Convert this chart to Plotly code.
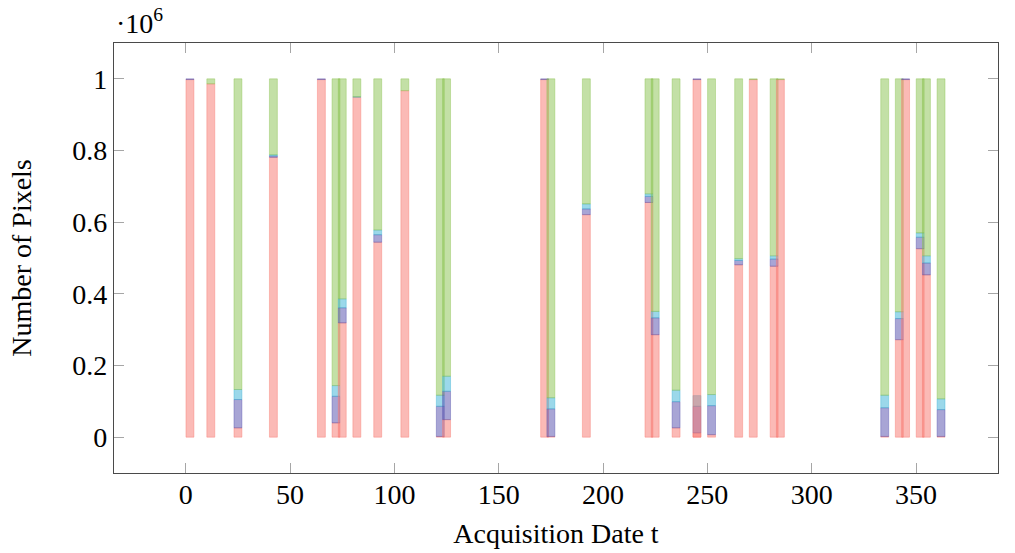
import plotly.graph_objects as go

# Acquisition dates (day index) and per-class pixel counts for each acquisition
dates = [2, 12, 25, 42, 65, 72, 75, 82, 92, 105, 122, 125, 172, 175, 192,
         222, 225, 235, 245, 245, 252, 265, 272, 282, 285, 335, 342, 345,
         352, 355, 362]

red = [998000, 986000, 26000, 781000, 998000, 40000, 319000, 949000, 544000,
       967000, 2000, 49000, 998000, 2000, 621000, 655000, 286000, 26000,
       12000, 998000, 7000, 481000, 998000, 477000, 998000, 2000, 272000,
       998000, 526000, 453000, 2000]

purple = [2000, 0, 79000, 4000, 2000, 74000, 42000, 0, 21000, 0, 84000,
          79000, 2000, 77000, 16000, 17000, 47000, 73000, 74000, 2000, 81000,
          12000, 0, 20000, 0, 80000, 59000, 2000, 32000, 33000, 75000]

cyan = [0, 0, 28000, 3000, 0, 30000, 25000, 1000, 13000, 0, 31000, 42000, 0,
        31000, 14000, 7000, 18000, 32000, 30000, 0, 31000, 5000, 0, 9000, 0,
        35000, 19000, 0, 12000, 20000, 30000]

green = [0, 14000, 867000, 212000, 0, 856000, 614000, 50000, 422000, 33000,
         883000, 830000, 0, 890000, 349000, 321000, 649000, 869000, 0, 0,
         881000, 502000, 2000, 494000, 2000, 883000, 650000, 0, 430000, 494000,
         893000]

x_ticks = [0, 50, 100, 150, 200, 250, 300, 350]
y_ticks = [0, 200000, 400000, 600000, 800000, 1000000]
y_tick_labels = ["0", "0.2", "0.4", "0.6", "0.8", "1"]

series = [
    (red, (248, 118, 109)),
    (purple, (82, 76, 171)),
    (cyan, (56, 178, 213)),
    (green, (135, 193, 77)),
]

BAR_WIDTH = 3.8

fig = go.Figure()

# Each acquisition is drawn as its own stack, in date order
for i, t in enumerate(dates):
    base = 0
    for values, (r, g, b) in series:
        v = values[i]
        if v > 0:
            fig.add_trace(go.Bar(
                x=[t], y=[v], base=[base], width=BAR_WIDTH,
                marker=dict(color=f"rgba({r},{g},{b},0.5)",
                            line=dict(color=f"rgba({r},{g},{b},0.45)", width=0.9)),
                showlegend=False,
            ))
        base += v

font = dict(family="Liberation Serif, Times New Roman, serif", size=28, color="black")

axis_common = dict(
    showgrid=False, zeroline=False, automargin=False,
    showline=True, linecolor="#4a4a4a", linewidth=1.3,
    mirror="ticks", ticks="inside", ticklen=10, tickwidth=1, tickcolor="#a6a6a6",
    tickfont=font,
)

fig.update_layout(
    barmode="overlay",
    width=1015, height=553,
    margin=dict(l=114, r=17, t=43, b=80),
    paper_bgcolor="white", plot_bgcolor="white",
    font=font,
    xaxis=dict(range=[-34.4, 389.3], tickvals=x_ticks, ticklabelstandoff=-4,
               title=dict(text="Acquisition Date t", font=font, standoff=14),
               **axis_common),
    yaxis=dict(range=[-100000, 1100000], tickvals=y_ticks, ticktext=y_tick_labels,
               title=dict(text="Number of Pixels", font=font, standoff=32),
               **axis_common),
    annotations=[dict(
        text="·10<sup>6</sup>", xref="paper", yref="paper", x=0.0, y=1.0,
        xanchor="left", yanchor="bottom", showarrow=False, font=font, yshift=2,
    )],
)

fig.write_html("out.html")
